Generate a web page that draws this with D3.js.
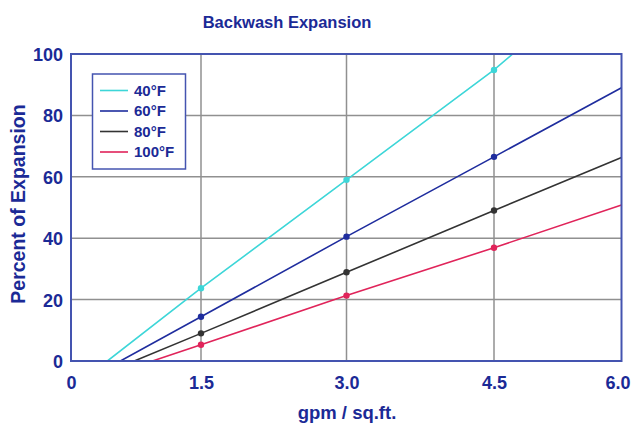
<!DOCTYPE html>
<html>
<head>
<meta charset="utf-8">
<script src="https://cdn.jsdelivr.net/npm/d3@7/dist/d3.min.js"></script>
<style>
  html, body { margin: 0; padding: 0; background: #fff; }
  svg { display: block; font-family: "Liberation Sans", Arial, Helvetica, sans-serif; }
</style>
</head>
<body>
<svg id="chart" width="632" height="424"></svg>
<script>
// ---- Data ----
const xTicks = [0, 1.5, 3.0, 4.5, 6.0];
const xTickLabels = ["0", "1.5", "3.0", "4.5", "6.0"];
const yTicks = [0, 20, 40, 60, 80, 100];
const seriesNames = ["40°F", "60°F", "80°F", "100°F"];
const markerX = [1.5, 3.0, 4.5];

const s40x  = [0.42, 1.5, 3.0, 4.5, 4.72];
const s40y  = [0, 23.7, 59.0, 94.8, 100];
const s60x  = [0.57, 1.5, 3.0, 4.5, 6.0];
const s60y  = [0, 14.4, 40.5, 66.5, 89.0];
const s80x  = [0.73, 1.5, 3.0, 4.5, 6.0];
const s80y  = [0, 9.0, 28.9, 49.0, 66.3];
const s100x = [0.94, 1.5, 3.0, 4.5, 6.0];
const s100y = [0, 5.3, 21.3, 36.9, 50.8];

const seriesX = [s40x, s60x, s80x, s100x];
const seriesY = [s40y, s60y, s80y, s100y];
const colors = ["#3dd6d8", "#1f2d9e", "#333333", "#e0245a"];

// ---- Layout ----
const svg = d3.select("#chart");
const pLeft = 71, pRight = 621.5, pTop = 54, pBottom = 361;
const textColor = "#1b2a96";
const frameColor = "#4454b0";
const gridColor = "#909090";

// The original's x grid is slightly uneven; piecewise linear scale reproduces it
const x = d3.scaleLinear().domain(xTicks).range([pLeft, 201, 346.5, 494, pRight]);
const y = d3.scaleLinear().domain([0, 100]).range([pBottom, pTop]);

// Grid
svg.append("g").selectAll("line")
  .data(xTicks.slice(1, -1)).join("line")
  .attr("x1", d => x(d)).attr("x2", d => x(d))
  .attr("y1", pTop).attr("y2", pBottom)
  .attr("stroke", gridColor).attr("stroke-width", 1.5);
svg.append("g").selectAll("line")
  .data(yTicks.slice(1, -1)).join("line")
  .attr("x1", pLeft).attr("x2", pRight)
  .attr("y1", d => y(d)).attr("y2", d => y(d))
  .attr("stroke", gridColor).attr("stroke-width", 1.5);

// Lines
svg.append("clipPath").attr("id", "plotclip")
  .append("rect").attr("x", pLeft).attr("y", pTop)
  .attr("width", pRight - pLeft).attr("height", pBottom - pTop);

const line = d3.line().x(d => x(d[0])).y(d => y(d[1]));
const plot = svg.append("g").attr("clip-path", "url(#plotclip)");
seriesX.forEach((xs, i) => {
  const pts = xs.map((v, j) => [v, seriesY[i][j]]);
  plot.append("path").datum(pts)
    .attr("d", line).attr("fill", "none")
    .attr("stroke", colors[i]).attr("stroke-width", 1.6);
  plot.append("g").selectAll("circle")
    .data(pts.filter(p => markerX.includes(p[0]))).join("circle")
    .attr("cx", d => x(d[0])).attr("cy", d => y(d[1]))
    .attr("r", 3.2).attr("fill", colors[i]);
});

// Frame
svg.append("rect")
  .attr("x", pLeft).attr("y", pTop)
  .attr("width", pRight - pLeft).attr("height", pBottom - pTop)
  .attr("fill", "none").attr("stroke", frameColor).attr("stroke-width", 2);

// Axes labels
const xAxis = d3.axisBottom(x).tickValues(xTicks)
  .tickFormat((d, i) => xTickLabels[i]).tickSize(0).tickPadding(0);
const gx = svg.append("g").attr("transform", `translate(0,${pBottom})`).call(xAxis);
gx.select(".domain").remove();
gx.selectAll("text")
  .attr("y", 28).attr("dy", 0)
  .attr("dx", (d, i) => i === xTicks.length - 1 ? -4 : 0)
  .attr("fill", textColor).attr("font-size", 18).attr("font-weight", "bold")
  .attr("font-family", "Liberation Sans, Arial, sans-serif");

const yAxis = d3.axisLeft(y).tickValues(yTicks).tickSize(0).tickPadding(0);
const gy = svg.append("g").attr("transform", `translate(${pLeft},0)`).call(yAxis);
gy.select(".domain").remove();
gy.selectAll("text")
  .attr("x", -8).attr("dy", "0.36em")
  .attr("fill", textColor).attr("font-size", 18).attr("font-weight", "bold")
  .attr("font-family", "Liberation Sans, Arial, sans-serif");

// Titles
svg.append("text")
  .attr("x", 287).attr("y", 28).attr("text-anchor", "middle")
  .attr("fill", textColor).attr("font-size", 16.5).attr("font-weight", "bold")
  .text("Backwash Expansion");

svg.append("text")
  .attr("x", 347).attr("y", 419).attr("text-anchor", "middle")
  .attr("fill", textColor).attr("font-size", 18.5).attr("font-weight", "bold")
  .text("gpm / sq.ft.");

svg.append("text")
  .attr("transform", "translate(25,204) rotate(-90)")
  .attr("text-anchor", "middle")
  .attr("fill", textColor).attr("font-size", 19.5).attr("font-weight", "bold")
  .text("Percent of Expansion");

// Legend
const lg = svg.append("g");
lg.append("rect")
  .attr("x", 92.5).attr("y", 74).attr("width", 93).attr("height", 95)
  .attr("fill", "#fff").attr("stroke", frameColor).attr("stroke-width", 1.5);
const rowY = d3.scalePoint().domain(seriesNames).range([90.5, 152]);
seriesNames.forEach((name, i) => {
  lg.append("line")
    .attr("x1", 100).attr("x2", 128)
    .attr("y1", rowY(name)).attr("y2", rowY(name))
    .attr("stroke", colors[i]).attr("stroke-width", 1.6);
  lg.append("text")
    .attr("x", 134).attr("y", rowY(name)).attr("dy", "0.36em")
    .attr("fill", textColor).attr("font-size", 15).attr("font-weight", "bold")
    .text(name);
});
</script>
</body>
</html>
